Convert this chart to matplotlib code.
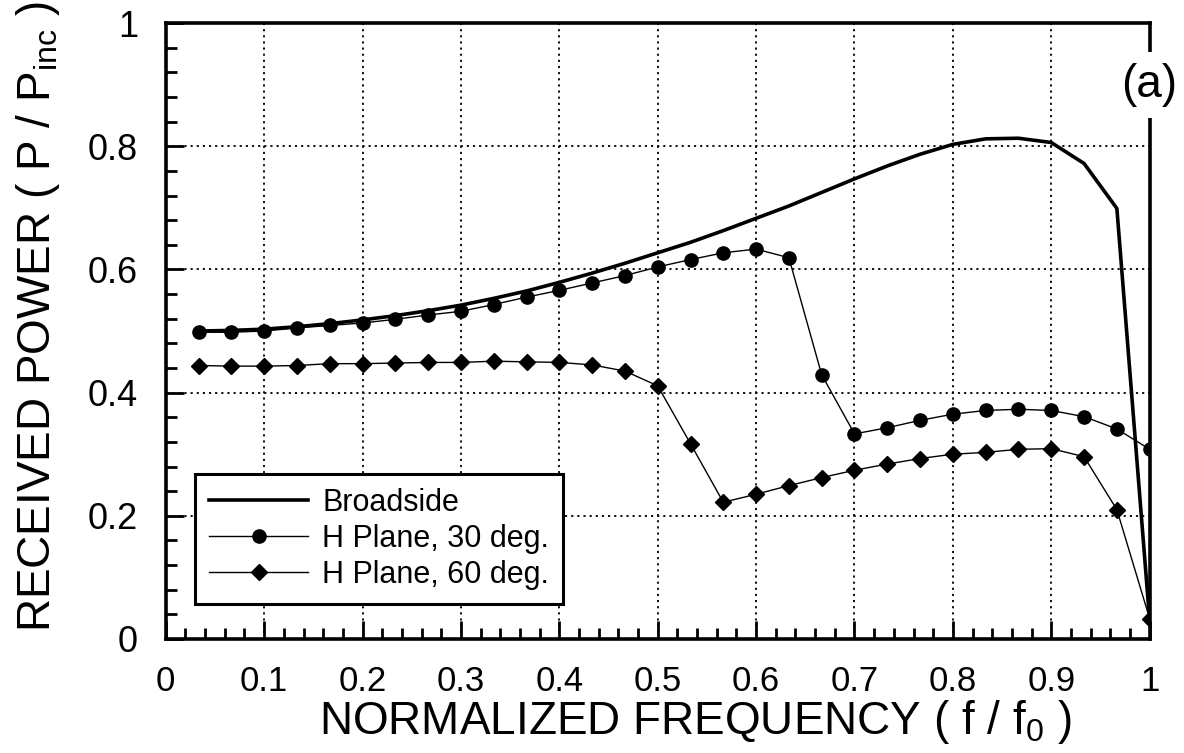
import matplotlib
matplotlib.use("Agg")
import matplotlib.pyplot as plt
from matplotlib.ticker import MultipleLocator, FuncFormatter

plt.rcParams['font.family'] = ['Liberation Sans', 'DejaVu Sans']
plt.rcParams['mathtext.fontset'] = 'custom'
plt.rcParams['mathtext.rm'] = 'Liberation Sans'
plt.rcParams['mathtext.it'] = 'Liberation Sans'

freq = [i / 30 for i in range(1, 31)]

broadside = [0.500, 0.501, 0.503, 0.507, 0.512, 0.518, 0.525, 0.533, 0.542, 0.553,
             0.565, 0.579, 0.594, 0.610, 0.627, 0.644, 0.663, 0.683, 0.703, 0.725,
             0.747, 0.768, 0.787, 0.803, 0.812, 0.813, 0.806, 0.772, 0.699, 0.030]

h30 = [0.498, 0.498, 0.500, 0.505, 0.509, 0.513, 0.519, 0.526, 0.532, 0.543,
       0.555, 0.566, 0.578, 0.590, 0.604, 0.616, 0.627, 0.633, 0.619, 0.429,
       0.333, 0.343, 0.355, 0.365, 0.371, 0.373, 0.371, 0.361, 0.341, 0.308]

h60 = [0.444, 0.443, 0.443, 0.444, 0.447, 0.447, 0.448, 0.449, 0.449, 0.451,
       0.450, 0.449, 0.445, 0.435, 0.411, 0.317, 0.222, 0.235, 0.249, 0.262,
       0.274, 0.284, 0.293, 0.300, 0.303, 0.308, 0.309, 0.296, 0.210, 0.033]

labels = ["Broadside", "H Plane, 30 deg.", "H Plane, 60 deg."]

fig = plt.figure(figsize=(11.84, 7.53), dpi=100)
ax = fig.add_axes([0.140, 0.1514, 0.831, 0.818])

ax.plot(freq, broadside, color='black', lw=2.6, label=labels[0], zorder=3)
ax.plot(freq, h30, color='black', lw=1.0, marker='o', ms=9.5, label=labels[1], zorder=4)
ax.plot(freq, h60, color='black', lw=1.0, marker='D', ms=8.5, label=labels[2], zorder=4)

ax.set_xlim(0, 1)
ax.set_ylim(0, 1)
ax.xaxis.set_major_locator(MultipleLocator(0.1))
ax.xaxis.set_minor_locator(MultipleLocator(0.02))
ax.yaxis.set_major_locator(MultipleLocator(0.2))
ax.yaxis.set_minor_locator(MultipleLocator(0.04))

fmt = FuncFormatter(lambda v, p: '%g' % round(v, 2))
ax.xaxis.set_major_formatter(fmt)
ax.yaxis.set_major_formatter(fmt)

ax.tick_params(which='both', direction='in', width=2)
ax.tick_params(axis='x', labelsize=25, pad=19)
ax.tick_params(axis='y', labelsize=26, pad=20)
ax.tick_params(which='major', length=13)
ax.tick_params(which='minor', length=8)

ax.grid(True, which='major', color='black', linestyle=(0, (1.2, 2.2)), linewidth=1.3)

for s in ax.spines.values():
    s.set_linewidth(2.6)

ax.set_xlabel('NORMALIZED FREQUENCY ( f / f$_0$ )', fontsize=33, va='top')
ax.xaxis.set_label_coords(0.538, -0.095)
ax.set_ylabel('RECEIVED POWER ( P / P$_{\\mathrm{inc}}$ )', fontsize=33)
ax.yaxis.set_label_coords(-0.105, 0.523)

leg = ax.legend(loc='lower left', bbox_to_anchor=(0.03, 0.057), fontsize=22,
                frameon=True, fancybox=False, edgecolor='black', framealpha=1,
                handlelength=3.25, borderaxespad=0, labelspacing=0.2,
                handletextpad=0.46, borderpad=0.45)
leg.get_frame().set_linewidth(2.2)

ax.text(1.0, 0.899, '(a)', transform=ax.transAxes, fontsize=33, ha='center', va='center',
        bbox=dict(facecolor='white', edgecolor='none', pad=8), zorder=10)

fig.savefig('out.png', dpi=100)
